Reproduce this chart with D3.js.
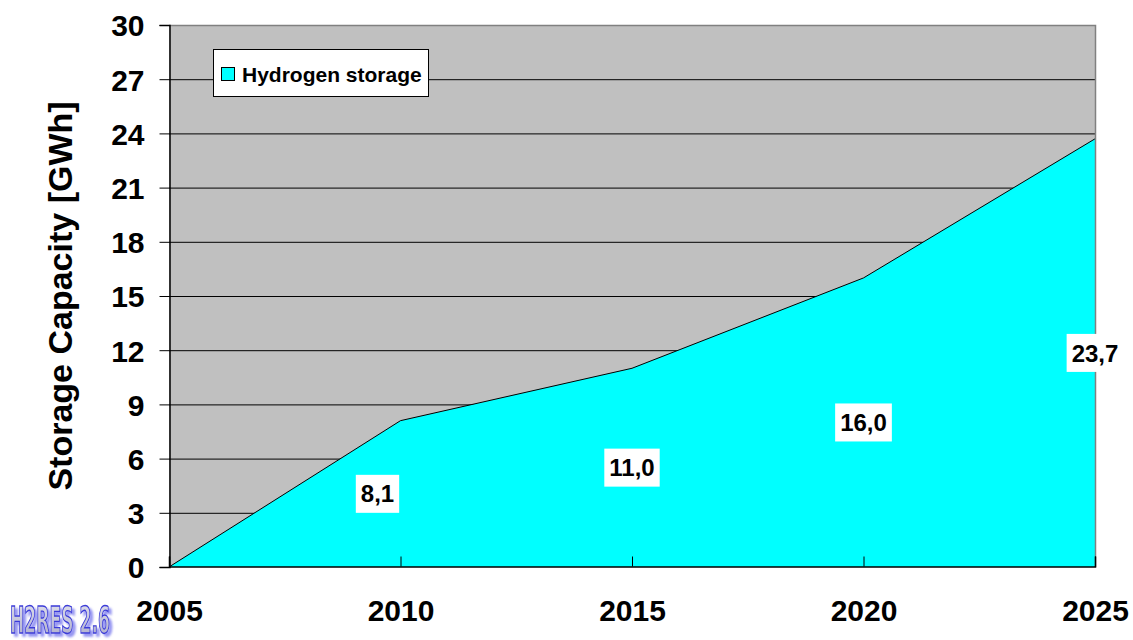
<!DOCTYPE html>
<html>
<head>
<meta charset="utf-8">
<script src="https://cdn.jsdelivr.net/npm/d3@7"></script>
<style>
  html, body { margin: 0; padding: 0; background: #ffffff; }
  svg { display: block; }
</style>
</head>
<body>
<svg id="chart" width="1133" height="640"></svg>
<script>
// Hydrogen storage capacity, GWh
const years = [2005, 2010, 2015, 2020, 2025];
const capacity = [0, 8.1, 11.0, 16.0, 23.7];
const capacityLabels = ["", "8,1", "11,0", "16,0", "23,7"];
const yTicks = [0, 3, 6, 9, 12, 15, 18, 21, 24, 27, 30];
const seriesName = "Hydrogen storage";
const yTitle = "Storage Capacity [GWh]";
const badgeText = "H2RES 2.6";

const FONT = "Liberation Sans, Arial, sans-serif";
const svg = d3.select("#chart");
const plot = { left: 169, right: 1095, top: 25, bottom: 567 };

const x = d3.scaleLinear().domain([2005, 2025]).range([plot.left, plot.right]);
const y = d3.scaleLinear().domain([0, 30]).range([plot.bottom, plot.top]);

const data = years.map((yr, i) => ({ year: yr, value: capacity[i], label: capacityLabels[i] }));

// plot background
svg.append("rect")
  .attr("x", plot.left).attr("y", plot.top)
  .attr("width", plot.right - plot.left).attr("height", plot.bottom - plot.top)
  .attr("fill", "#c0c0c0");

// horizontal gridlines
svg.append("g")
  .selectAll("line")
  .data(yTicks.filter(t => t > 0 && t < 30))
  .join("line")
  .attr("x1", plot.left).attr("x2", plot.right)
  .attr("y1", d => y(d) + 0.5).attr("y2", d => y(d) + 0.5)
  .attr("stroke", "#000").attr("stroke-width", 1);

// area
const area = d3.area().x(d => x(d.year)).y0(y(0)).y1(d => y(d.value));
const line = d3.line().x(d => x(d.year)).y(d => y(d.value));
svg.append("path").datum(data).attr("d", area).attr("fill", "#00ffff");
svg.append("path").datum(data).attr("d", line)
  .attr("fill", "none").attr("stroke", "#000").attr("stroke-width", 1);

// plot frame (top/right grey)
svg.append("path")
  .attr("d", `M${plot.left},${plot.top + 0.5}H${plot.right + 0.5}V${plot.bottom}`)
  .attr("fill", "none").attr("stroke", "#808080").attr("stroke-width", 1.5);

// y axis
const yAxis = d3.axisLeft(y).tickValues(yTicks).tickSize(10).tickPadding(15).tickFormat(d3.format("d"));
const gy = svg.append("g").attr("transform", `translate(${plot.left + 0.5},0)`).call(yAxis);
gy.select(".domain").attr("stroke", "#000").attr("stroke-width", 1.5);
gy.selectAll(".tick line").attr("stroke", "#000");
gy.selectAll(".tick text")
  .attr("font-family", FONT)
  .attr("font-weight", "bold").attr("font-size", 30).attr("fill", "#000")
  .attr("dy", "0.36em");

// x axis with inward ticks
const xAxis = d3.axisBottom(x).tickValues(years).tickSize(-10).tickPadding(33).tickFormat(d3.format("d"));
const gx = svg.append("g").attr("transform", `translate(0,${plot.bottom - 0.5})`).call(xAxis);
gx.select(".domain").attr("stroke", "#000").attr("stroke-width", 1.5);
gx.selectAll(".tick line").attr("stroke", "#000");
gx.selectAll(".tick text")
  .attr("font-family", FONT)
  .attr("font-weight", "bold").attr("font-size", 30).attr("fill", "#000");

// y axis title
svg.append("text")
  .attr("transform", `translate(72,${(plot.top + plot.bottom) / 2}) rotate(-90)`)
  .attr("text-anchor", "middle")
  .attr("font-family", FONT)
  .attr("font-weight", "bold").attr("font-size", 34).attr("fill", "#000")
  .text(yTitle);

// data labels, centred vertically within the filled area
const labelNudge = { 2010: -23 };
const lbl = svg.append("g").selectAll("g")
  .data(data.filter(d => d.label))
  .join("g")
  .attr("transform", d => `translate(${x(d.year) + (labelNudge[d.year] || 0)},${(y(d.value) + y(0)) / 2})`);
lbl.append("text")
  .attr("text-anchor", "middle").attr("dy", "0.36em")
  .attr("font-family", FONT)
  .attr("font-weight", "bold").attr("font-size", 24).attr("fill", "#000")
  .text(d => d.label);
lbl.each(function () {
  const g = d3.select(this);
  const b = g.select("text").node().getBBox();
  g.insert("rect", "text")
    .attr("x", b.x - 5).attr("y", -19)
    .attr("width", b.width + 10).attr("height", 38)
    .attr("fill", "#fff");
});

// legend
const legend = svg.append("g").attr("transform", "translate(213,49)");
legend.append("rect").attr("x", 0.5).attr("y", 0.5).attr("width", 215).attr("height", 47)
  .attr("fill", "#fff").attr("stroke", "#000").attr("stroke-width", 1);
legend.append("rect").attr("x", 8.5).attr("y", 18.5).attr("width", 13).attr("height", 13)
  .attr("fill", "#00ffff").attr("stroke", "#000").attr("stroke-width", 1);
legend.append("text").attr("x", 29).attr("y", 33)
  .attr("font-family", FONT)
  .attr("font-weight", "bold").attr("font-size", 21).attr("fill", "#000")
  .text(seriesName);

// model badge with soft drop shadow
const defs = svg.append("defs");
const grad = defs.append("linearGradient").attr("id", "badgeFill")
  .attr("x1", 0).attr("y1", 0).attr("x2", 0).attr("y2", 1);
grad.append("stop").attr("offset", "0%").attr("stop-color", "#e4e4ee");
grad.append("stop").attr("offset", "100%").attr("stop-color", "#a8a8c8");
const shadow = defs.append("filter").attr("id", "badgeShadow")
  .attr("x", "-10%").attr("y", "-20%").attr("width", "130%").attr("height", "150%");
shadow.append("feDropShadow").attr("dx", 3).attr("dy", 3).attr("stdDeviation", 1.2)
  .attr("flood-color", "#8a8af0").attr("flood-opacity", 0.9);

svg.append("text").attr("x", 10).attr("y", 633)
  .attr("font-family", "DejaVu Sans Condensed, DejaVu Sans, sans-serif")
  .attr("font-weight", "bold").attr("font-size", 37)
  .attr("textLength", 100).attr("lengthAdjust", "spacingAndGlyphs")
  .attr("fill", "url(#badgeFill)").attr("stroke", "#3a3ad8").attr("stroke-width", 1.4)
  .attr("filter", "url(#badgeShadow)")
  .text(badgeText);
</script>
</body>
</html>
